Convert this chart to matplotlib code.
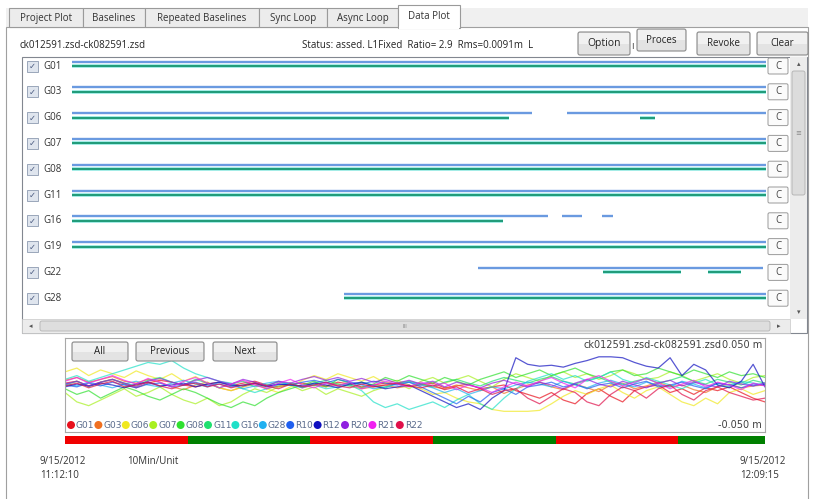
import numpy as np
import matplotlib.pyplot as plt
from matplotlib.patches import Rectangle, FancyBboxPatch, Circle

# ---- data ----
tabs = ['Project Plot', 'Baselines', 'Repeated Baselines', 'Sync Loop', 'Async Loop', 'Data Plot']
sats = ['G01', 'G03', 'G06', 'G07', 'G08', 'G11', 'G16', 'G19', 'G22', 'G28']
n_epochs = 685  # 5 s epochs, 11:12:10 -> 12:09:15

# tracking segments (start epoch, end epoch) per satellite
blue_segs = {
    'G01': [(0, 685)], 'G03': [(0, 685)], 'G06': [(0, 454), (489, 685)],
    'G07': [(0, 685)], 'G08': [(0, 685)], 'G11': [(0, 685)],
    'G16': [(0, 470), (484, 503), (523, 534)], 'G19': [(0, 685)],
    'G22': [(401, 682)], 'G28': [(268, 685)],
}
green_segs = {
    'G01': [(0, 685)], 'G03': [(0, 685)], 'G06': [(0, 431), (561, 575)],
    'G07': [(0, 685)], 'G08': [(0, 685)], 'G11': [(0, 685)],
    'G16': [(0, 425)], 'G19': [(0, 685)],
    'G22': [(524, 601), (628, 660)], 'G28': [(268, 685)],
}

# residuals (mm)
res_names = ['G01', 'G03', 'G06', 'G07', 'G08', 'G11', 'G16', 'G28', 'R10', 'R12', 'R20', 'R21', 'R22']
res_colors = ['#e8101c', '#f07020', '#f0e820', '#a8f020', '#30e030', '#20e070', '#20e0c8',
              '#20b0f0', '#2060f0', '#1010c0', '#9020e0', '#f020f0', '#e0104a']
G01 = [2, 4, -1, 3, 6, 1, -3, 2, 5, 3, 0, -2, 1, 3, -1, 2, 4, 0, -2, 1,
       2, 0, -1, 3, 1, -2, 0, 2, 1, -1, 0, 2, -3, -1, 1, -4, -2, 0, -6, -10,
       -14, -8, -16, -20, -9, -4, -12, -18, -6, -2, 0, -8, -4, -10, -3, -6, -2, -8, -14, -18]
G03 = [5, 8, 3, 6, 9, 4, 2, 6, 3, -2, -5, 0, 3, -3, -6, -2, 1, -4, -1, 2,
       -3, 0, -2, 1, -1, -4, -2, 0, -3, -1, 1, -2, -4, 0, -3, -6, -2, -9, -4, 0,
       3, -2, -5, 1, -3, -7, 0, 2, -4, -1, 3, -2, 0, -5, -8, -2, 1, -3, -1, 0]
G06 = [14, 18, 10, 16, 12, 8, 15, 10, 6, 12, 4, 9, 2, -3, -6, -2, 3, -4, -8, -2,
       5, 10, 6, 12, 8, 4, 9, 2, 5, 0, -4, -10, -8, -14, -18, -20, -26, -28, -28, -28,
       -27, -20, -12, -6, -10, -4, 0, -8, -14, -6, -2, -10, -18, -22, -14, -20, -8, -4, -10, -6]
G07 = [-8, -18, -22, -16, -10, -4, -12, -8, -2, -10, -16, -20, -14, -22, -18, -10, -4, -8, -2, 0,
       -6, -2, -10, -4, -8, -12, -6, -2, 2, -4, 4, 8, 2, 6, 10, 4, -2, 6, 12, 8,
       4, 10, 14, 8, 12, 6, 10, 16, 12, 6, 8, 14, 10, 4, 8, 12, 6, 2, 8, 10]
G08 = [-4, -10, -6, -14, -8, -2, -6, -12, -16, -10, -4, -8, -14, -20, -24, -18, -22, -14, -8, -4,
       0, 4, -2, 6, 2, -3, 1, 8, 4, 10, 6, 2, 8, 4, 0, 6, 10, 14, 8, 12,
       16, 10, 14, 18, 12, 8, 14, 16, 10, 12, 18, 14, 10, 16, 12, 8, 14, 10, 12, 8]
G11 = [0, 4, -2, 3, 6, 2, -1, 5, 8, 3, 0, 6, 2, -3, 1, 4, -2, 0, 3, 1,
       -2, 2, 5, 1, -1, 3, 0, -3, 2, 4, 1, -2, 3, 6, 2, -1, 4, 8, 5, 2,
       6, 9, 4, 1, 5, 8, 3, 0, 4, 7, 2, 5, 9, 4, 1, 6, 3, 0, 5, 2]
G16 = [6, 10, 4, 8, 12, 16, 20, 24, 22, 26, 18, 12, 8, 4, 2, -4, -8, -4, 0, 2,
       -2, 0, -4, -2, 0, -6, -18, -24, -20, -26, -22, -18, -24, -16, -10, -20, -26, -14, -4, 4,
       8, 12, 6, 10, 4, 8, 14, 6, 2, 8, 4, 0, -4, 2, 6, 0, -2, 4, 2, 0]
G28 = [2, -1, 3, 0, -3, 1, 4, 0, -2, 2, 5, 1, -2, 3, 0, -4, -1, 2, 4, 0,
       -3, 1, 3, -1, 2, 0, -4, -2, 1, 3, 0, -3, -8, -4, -10, -6, -2, -4, 0, 3,
       1, -2, 4, 0, -3, 2, 5, 1, -2, 3, 0, -2, 4, 1, -3, 2, 0, 3, -1, 2]
R10 = [0, -2, 2, -1, 3, 0, -3, 1, 2, -2, 0, 3, -1, 1, -2, 0, 2, -1, 1, 0,
       3, 5, 2, 6, 3, 1, 4, 2, 0, 3, -2, -8, -14, -20, -12, -18, -8, -4, -10, -2,
       0, 3, -2, 1, -4, 0, 2, -3, 1, 4, -2, 0, 3, -1, -4, 2, 0, -3, 1, 0]
R12 = [-2, 1, -1, 2, 0, -3, 1, 3, -1, 0, 2, -2, 1, 3, 0, -1, 2, -2, 1, 0,
       -1, 2, 0, -3, 1, 3, -1, -4, -2, 0, -6, -12, -18, -24, -20, -26, -14, -6, 29, 22,
       20, 21, 19, 23, 26, 30, 30, 29, 24, 20, 18, 29, 10, 22, 16, 0, -3, 4, 22, -2]
R20 = [1, 4, -1, 3, 6, 2, -2, 4, 7, 3, 0, 5, 8, 4, 1, 6, 3, -1, 4, 2,
       6, 9, 5, 8, 4, 7, 3, 6, 2, 5, 1, 4, -2, 3, 0, -3, 2, 5, 1, -2,
       3, 0, -4, 2, 6, 1, -2, 4, 0, -3, 2, 5, -1, 3, 0, -2, 4, 1, -1, 2]
R21 = [4, 8, 2, 6, 10, 5, 1, 7, 3, -2, 4, 8, 2, -3, 1, 5, 0, -4, 2, 6,
       0, -3, 2, -1, 3, -4, 0, 4, 1, -2, 3, -1, 2, -5, 0, -3, -8, -2, 3, -1,
       4, 8, 2, -3, 6, 10, 4, -1, 3, 7, 2, -4, 1, 5, -2, 3, 0, -5, 2, -1]
R22 = [-1, 2, -3, 1, 4, -2, 0, 3, -1, -4, 0, 2, -2, 1, -3, 0, 2, -1, -4, 1,
       -2, 0, 3, -1, -3, 1, -2, 0, 2, -1, -3, 0, -5, -2, -8, -4, -10, -6, -4, -14,
       -20, -12, -4, -8, -18, -22, -10, -2, -6, -14, -4, 0, -10, -16, -6, -2, -8, -12, -16, -14]
residuals = [G01, G03, G06, G07, G08, G11, G16, G28, R10, R12, R20, R21, R22]

# 10 min blocks (120 epochs) alternating red / green
block_starts = [0, 120, 240, 360, 480, 600]
block_colors = ['#f00000', '#008000', '#f00000', '#008000', '#f00000', '#008000']

W, H = 815, 499
plt.rcParams['font.family'] = ['Open Sans', 'DejaVu Sans']
fig = plt.figure(figsize=(W / 100, H / 100), dpi=100)
fig.patch.set_facecolor('white')


def px_axes(x0, y0, x1, y1, z):
    ax = fig.add_axes([x0 / W, 1 - y1 / H, (x1 - x0) / W, (y1 - y0) / H], zorder=z)
    return ax


def button(ax, x0, y0, x1, y1, label, fs=7):
    ax.add_patch(FancyBboxPatch((x0, y0), x1 - x0, y1 - y0, boxstyle='round,pad=0,rounding_size=2',
                                fc='#e3e3e3', ec='#8a8a8a', lw=0.8))
    ax.add_patch(Rectangle((x0 + 1, y0 + 1), x1 - x0 - 2, (y1 - y0) / 2 - 1, fc='#f1f1f1', ec='none'))
    ax.text((x0 + x1) / 2, (y0 + y1) / 2, label, ha='center', va='center', fontsize=fs, color='#222222')


# background / UI frame
bg = fig.add_axes([0, 0, 1, 1], zorder=0)
bg.set_xlim(0, W)
bg.set_ylim(H, 0)
bg.axis('off')

bg.add_patch(Rectangle((6, 8), 802, 19, fc='#f0f0f0', ec='none'))
bg.add_patch(Rectangle((6, 27), 802, 480, fc='white', ec='#a0a0a0', lw=0.8))
tab_edges = [9, 83, 145, 259, 327, 398, 460]
for i, name in enumerate(tabs):
    x0, x1 = tab_edges[i], tab_edges[i + 1]
    if name == 'Data Plot':
        bg.add_patch(Rectangle((x0, 5), x1 - x0, 23, fc='white', ec='#9a9a9a', lw=0.8))
        bg.add_patch(Rectangle((x0 + 0.6, 26), x1 - x0 - 1.2, 3, fc='white', ec='none'))
        bg.text((x0 + x1) / 2, 16, name, ha='center', va='center', fontsize=7, color='#333333')
    else:
        bg.add_patch(Rectangle((x0, 8), x1 - x0, 19, fc='#ececec', ec='#9a9a9a', lw=0.8))
        bg.text((x0 + x1) / 2, 18, name, ha='center', va='center', fontsize=7, color='#333333')

bg.text(20, 45, 'ck012591.zsd-ck082591.zsd', ha='left', va='center', fontsize=7, color='#222222')
bg.text(302, 45, 'Status: assed. L1Fixed  Ratio= 2.9  Rms=0.0091m  L', ha='left', va='center',
        fontsize=7, color='#222222')
bg.text(632, 46, 'ı', ha='center', va='center', fontsize=7, color='#444444')

# satellite list panel
bg.add_patch(Rectangle((22, 57), 785, 276, fc='white', ec='#828790', lw=0.8))
row_y = 66 + 25.8 * np.arange(len(sats))
for y, name in zip(row_y, sats):
    bg.add_patch(Rectangle((26.5, y - 5.5), 11, 11, fc='#dfe5ee', ec='#8c9ab0', lw=0.6))
    bg.text(32, y + 0.5, '✓', ha='center', va='center', fontsize=6, color='#4a5a80', family='DejaVu Sans')
    bg.text(43, y, name, ha='left', va='center', fontsize=7, color='#333333')
    bg.add_patch(FancyBboxPatch((768, y - 8), 20, 16, boxstyle='round,pad=0,rounding_size=1.5',
                                fc='#fbfbfb', ec='#9a9a9a', lw=0.7))
    bg.text(778, y, 'C', ha='center', va='center', fontsize=7, color='#444444')

# scrollbars
bg.add_patch(Rectangle((790, 57), 17, 262, fc='#ececec', ec='none'))
bg.add_patch(FancyBboxPatch((792, 71), 13, 124, boxstyle='round,pad=0,rounding_size=2',
                            fc='#dcdcdc', ec='#b0b0b0', lw=0.6))
bg.text(798.5, 133, '≡', ha='center', va='center', fontsize=5, color='#888888', family='DejaVu Sans')
bg.text(798.5, 64, '▴', ha='center', va='center', fontsize=5, color='#555555', family='DejaVu Sans')
bg.text(798.5, 312, '▾', ha='center', va='center', fontsize=5, color='#555555', family='DejaVu Sans')
bg.add_patch(Rectangle((22, 319), 768, 14, fc='#ececec', ec='#c8c8c8', lw=0.5))
bg.add_patch(FancyBboxPatch((40, 321), 730, 10, boxstyle='round,pad=0,rounding_size=2',
                            fc='#dedede', ec='#b4b4b4', lw=0.6))
bg.text(31, 326, '◂', ha='center', va='center', fontsize=5, color='#555555', family='DejaVu Sans')
bg.text(779, 326, '▸', ha='center', va='center', fontsize=5, color='#555555', family='DejaVu Sans')
bg.text(405, 326, 'III', ha='center', va='center', fontsize=4, color='#888888', family='DejaVu Sans')

# tracking lines
lax = px_axes(72, 57, 766, 318, 1)
lax.set_xlim(0, n_epochs)
lax.set_ylim(318, 57)
lax.axis('off')
for y, name in zip(row_y, sats):
    for s, e in blue_segs[name]:
        lax.plot([s, e], [y - 4.5, y - 4.5], color='#6a9ae0', lw=1.7, solid_capstyle='butt')
    for s, e in green_segs[name]:
        lax.plot([s, e], [y, y], color='#8fe8e0', lw=2.6, solid_capstyle='butt')
        lax.plot([s, e], [y, y], color='#1f9a78', lw=1.4, solid_capstyle='butt')

# residual plot
rax = px_axes(65, 338, 765, 432, 1)
rax.set_xlim(0, n_epochs)
rax.set_ylim(-50, 50)
rax.set_xticks([])
rax.set_yticks([])
rax.patch.set_alpha(0)
for sp in rax.spines.values():
    sp.set_color('#a8a8a8')
    sp.set_linewidth(0.8)
x = np.linspace(0, n_epochs, len(G01))
for vals, c in zip(residuals, res_colors):
    rax.plot(x, vals, color=c, lw=0.9, alpha=0.7)

# red / green time bar
bax = px_axes(65, 436, 765, 444, 1)
bax.set_xlim(0, n_epochs)
bax.set_ylim(0, 1)
bax.axis('off')
widths = [min(120, n_epochs - s) for s in block_starts]
bax.barh(0.5, widths, left=block_starts, height=1, color=block_colors)

# overlay on residual plot
fg = fig.add_axes([0, 0, 1, 1], zorder=3)
fg.set_xlim(0, W)
fg.set_ylim(H, 0)
fg.axis('off')
button(fg, 72, 342, 128, 361, 'All')
button(fg, 136, 342, 204, 361, 'Previous')
button(fg, 213, 342, 277, 361, 'Next')
fg.text(722, 345, 'ck012591.zsd-ck082591.zsd', ha='right', va='center', fontsize=7,
        color='#404040', family='DejaVu Sans')
fg.text(762, 345, '0.050 m', ha='right', va='center', fontsize=7, color='#404040', family='DejaVu Sans')
fg.text(762, 425, '-0.050 m', ha='right', va='center', fontsize=7, color='#404040', family='DejaVu Sans')
for k, (name, c) in enumerate(zip(res_names, res_colors)):
    cx = 71 + 27.4 * k
    fg.text(cx + 5, 426, name, ha='left', va='center', fontsize=6.5, color='#5a6b8c', family='DejaVu Sans')
    fg.add_patch(Circle((cx, 425), 4, fc=c, ec='none', zorder=5))

# top buttons
button(fg, 578, 32, 630, 55, 'Option', fs=7.5)
button(fg, 637, 29, 686, 51, 'Proces', fs=7)
button(fg, 697, 32, 750, 55, 'Revoke', fs=7)
button(fg, 757, 32, 808, 55, 'Clear', fs=7)

# time labels
fg.text(40, 462, '9/15/2012', ha='left', va='center', fontsize=7, color='#333333')
fg.text(40, 476, '11:12:10', ha='left', va='center', fontsize=7, color='#333333')
fg.text(127, 462, '10Min/Unit', ha='left', va='center', fontsize=7, color='#333333')
fg.text(740, 462, '9/15/2012', ha='left', va='center', fontsize=7, color='#333333')
fg.text(740, 476, '12:09:15', ha='left', va='center', fontsize=7, color='#333333')

fig.savefig('out.png', dpi=100)
